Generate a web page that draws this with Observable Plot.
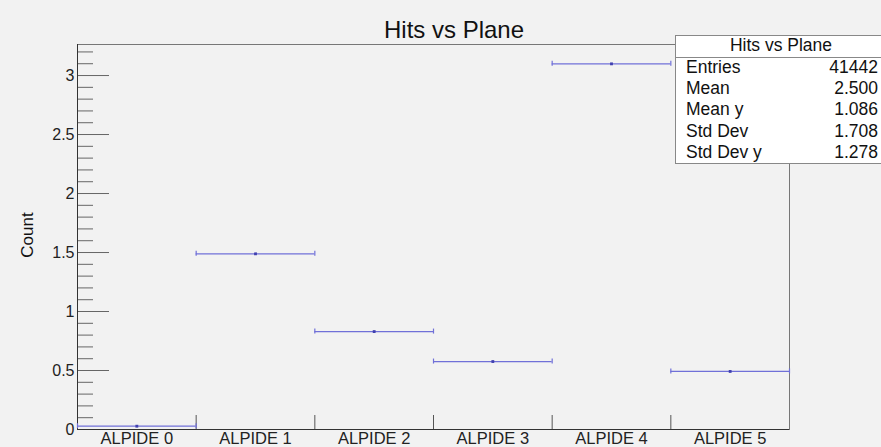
<!DOCTYPE html>
<html><head><meta charset="utf-8">
<script src="https://cdn.jsdelivr.net/npm/d3@7"></script>
<script src="https://cdn.jsdelivr.net/npm/@observablehq/plot@0.6"></script>
<style>
body{margin:0;background:#f2f2f2;font-family:"Liberation Sans",Arial,sans-serif;}
#wrap{position:relative;width:881px;height:447px;overflow:hidden;background:#f2f2f2;}
#chart{position:absolute;left:0;top:0;}
#title{position:absolute;left:454px;top:30px;transform:translate(-50%,-50%);font-size:24px;color:#111;white-space:nowrap;}
#ylab{position:absolute;left:28px;top:235px;transform:translate(-50%,-50%) rotate(-90deg);font-size:17px;color:#111;white-space:nowrap;}
#stats{position:absolute;left:675px;top:35px;width:212px;height:129px;background:#fff;border:1px solid #888;box-sizing:border-box;font-size:17.5px;color:#111;}
#stats .hdr{height:21px;border-bottom:1px solid #888;text-align:center;line-height:18px;}
#stats .row{height:21.2px;line-height:18px;position:relative;}
#stats .row .l{position:absolute;left:10px;}
#stats .row .r{position:absolute;right:8px;}
</style></head><body>
<div id="wrap"><div id="chart"></div><div id="title"></div><div id="ylab"></div><div id="stats"></div></div>
<script>
const planes = ["ALPIDE 0","ALPIDE 1","ALPIDE 2","ALPIDE 3","ALPIDE 4","ALPIDE 5"];
const counts = [0.028, 1.489, 0.830, 0.576, 3.099, 0.492];
const titleText = "Hits vs Plane";
const yLabel = "Count";
const statLabels = ["Entries","Mean","Mean y","Std Dev","Std Dev y"];
const statValues = ["41442","2.500","1.086","1.708","1.278"];
const majorTicks = [0, 0.5, 1, 1.5, 2, 2.5, 3];
const minorTicks = [0.1,0.2,0.3,0.4,0.6,0.7,0.8,0.9,1.1,1.2,1.3,1.4,1.6,1.7,1.8,1.9,2.1,2.2,2.3,2.4,2.6,2.7,2.8,2.9,3.1,3.2];
const binEdges = [1, 2, 3, 4, 5];
const binCenters = [0.5, 1.5, 2.5, 3.5, 4.5, 5.5];

const data = planes.map((p, i) => ({lo: i, hi: i + 1, mid: i + 0.5, v: counts[i]}));
const lineColor = "#7070d8";

const chart = Plot.plot({
  width: 881, height: 447,
  marginLeft: 77, marginRight: 92, marginTop: 44, marginBottom: 18,
  style: {background: "transparent", fontFamily: "'Liberation Sans', Arial, sans-serif", color: "#222", overflow: "visible"},
  x: {domain: [0, 6]},
  y: {domain: [0, 3.263]},
  marks: [
    Plot.axisY({ticks: majorTicks, tickSize: 0, tickPadding: 3, tickFormat: d => String(d), fontSize: 16, label: null}),
    Plot.axisY({ticks: majorTicks, tickSize: -32, text: null, stroke: "#666", label: null}),
    Plot.axisY({ticks: minorTicks, tickSize: -16, text: null, stroke: "#666", label: null}),
    Plot.axisX({ticks: binCenters, tickSize: 0, tickPadding: 3, tickFormat: d => planes[Math.floor(d)], fontSize: 16.5, label: null}),
    Plot.axisX({ticks: binEdges, tickSize: -14, text: null, stroke: "#555", label: null}),
    Plot.frame({stroke: "#777"}),
    Plot.ruleX([0], {stroke: "#333"}),
    Plot.ruleY([0], {stroke: "#333"}),
    Plot.ruleY(data, {y: "v", x1: "lo", x2: "hi", stroke: lineColor, strokeWidth: 1.2}),
    Plot.ruleX(data, {x: "lo", y1: "v", y2: "v", insetTop: -2.5, insetBottom: -2.5, stroke: lineColor, strokeWidth: 1.2}),
    Plot.ruleX(data, {x: "hi", y1: "v", y2: "v", insetTop: -2.5, insetBottom: -2.5, stroke: lineColor, strokeWidth: 1.2}),
    Plot.dot(data, {x: "mid", y: "v", symbol: "square", r: 1.6, fill: "#4040b0", stroke: "none"})
  ]
});
document.getElementById("chart").append(chart);
document.getElementById("title").textContent = titleText;
document.getElementById("ylab").textContent = yLabel;
const stats = document.getElementById("stats");
const hdr = document.createElement("div"); hdr.className = "hdr"; hdr.textContent = titleText; stats.append(hdr);
statLabels.forEach((l, i) => {
  const row = document.createElement("div"); row.className = "row";
  const a = document.createElement("span"); a.className = "l"; a.textContent = l;
  const b = document.createElement("span"); b.className = "r"; b.textContent = statValues[i];
  row.append(a, b); stats.append(row);
});
</script>
</body></html>
